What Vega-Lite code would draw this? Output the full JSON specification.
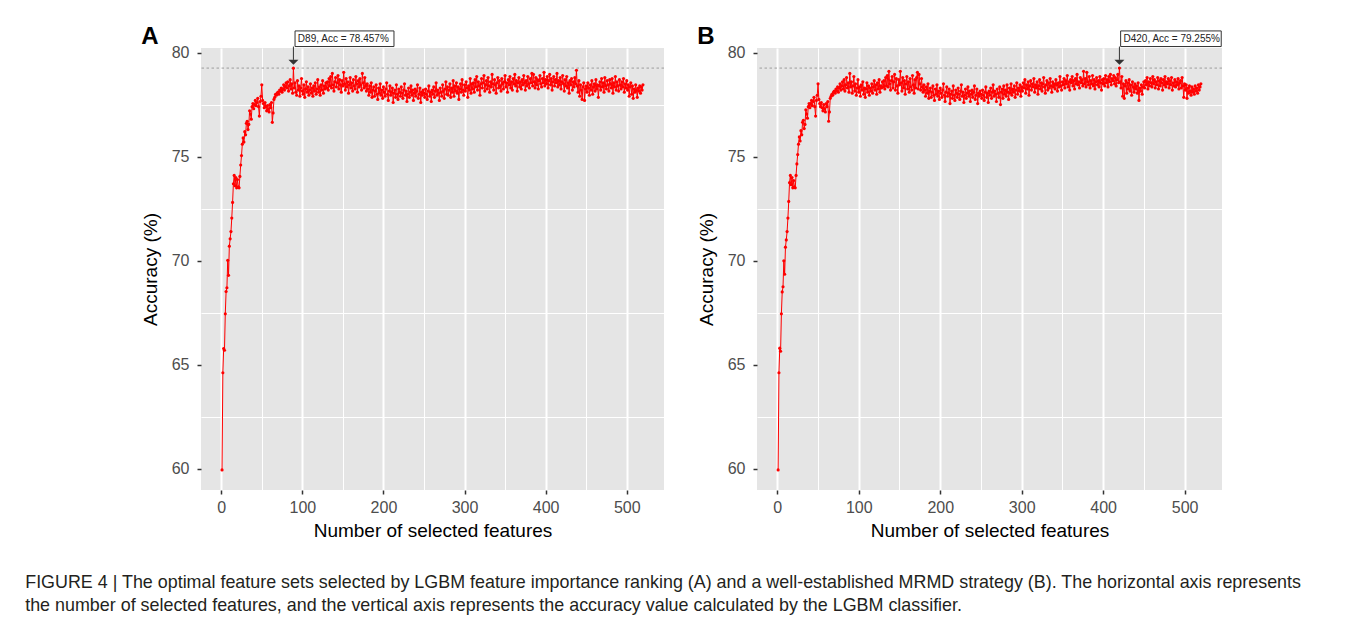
{
  "$schema": "https://vega.github.io/schema/vega-lite/v6.json",
  "background": "white",
  "padding": {"left": 25, "top": 25, "right": 5, "bottom": 5},
  "config": {
    "font": "Liberation Sans",
    "view": {"stroke": null, "fill": "#E5E5E5"},
    "axis": {
      "domain": false,
      "gridColor": "white",
      "tickColor": "#333333",
      "tickSize": 4,
      "tickWidth": 1.5,
      "labelColor": "#4D4D4D",
      "labelFontSize": 16,
      "labelFont": "Liberation Sans",
      "titleFont": "Liberation Sans",
      "titleFontSize": 19,
      "titleFontWeight": "normal",
      "titleColor": "#000000"
    },
    "axisX": {"labelPadding": 5, "titlePadding": 6},
    "axisY": {"labelPadding": 8, "titlePadding": 11}
  },
  "title": {
    "text": ["FIGURE 4 | The optimal feature sets selected by LGBM feature importance ranking (A) and a well-established MRMD strategy (B). The horizontal axis represents", "the number of selected features, and the vertical axis represents the accuracy value calculated by the LGBM classifier."],
    "orient": "bottom",
    "anchor": "start",
    "frame": "bounds",
    "dx": -116,
    "offset": 34,
    "fontSize": 17.9,
    "fontWeight": "normal",
    "font": "Liberation Sans",
    "color": "#231F20",
    "lineHeight": 23,
    "baseline": "top"
  },
  "datasets": {
    "A": [
      {"n":1,"acc":59.95},{"n":2,"acc":64.62},{"n":3,"acc":65.78},{"n":4,"acc":65.70},{"n":5,"acc":67.45},{"n":6,"acc":68.52},{"n":7,"acc":68.70},{"n":8,"acc":70.02},{"n":9,"acc":69.30},{"n":10,"acc":70.70},
      {"n":11,"acc":71.05},{"n":12,"acc":71.40},{"n":13,"acc":72.05},{"n":14,"acc":72.80},{"n":15,"acc":73.70},{"n":16,"acc":74.10},{"n":17,"acc":73.60},{"n":18,"acc":74.00},{"n":19,"acc":73.50},{"n":20,"acc":73.90},
      {"n":21,"acc":73.55},{"n":22,"acc":73.50},{"n":23,"acc":74.05},{"n":24,"acc":74.60},{"n":25,"acc":75.05},{"n":26,"acc":75.60},{"n":27,"acc":75.90},{"n":28,"acc":75.70},{"n":29,"acc":76.20},{"n":30,"acc":76.05},
      {"n":31,"acc":76.60},{"n":32,"acc":76.70},{"n":33,"acc":76.30},{"n":34,"acc":76.55},{"n":35,"acc":77.20},{"n":36,"acc":77.05},{"n":37,"acc":76.80},{"n":38,"acc":77.40},{"n":39,"acc":77.55},{"n":40,"acc":77.30},
      {"n":41,"acc":77.50},{"n":42,"acc":77.70},{"n":43,"acc":77.45},{"n":44,"acc":77.60},{"n":45,"acc":77.80},{"n":46,"acc":77.40},{"n":47,"acc":76.95},{"n":48,"acc":77.65},{"n":49,"acc":77.90},{"n":50,"acc":78.45},
      {"n":51,"acc":77.70},{"n":52,"acc":77.55},{"n":53,"acc":77.35},{"n":54,"acc":77.60},{"n":55,"acc":77.40},{"n":56,"acc":77.20},{"n":57,"acc":77.45},{"n":58,"acc":77.30},{"n":59,"acc":77.15},{"n":60,"acc":77.50},
      {"n":61,"acc":77.35},{"n":62,"acc":77.60},{"n":63,"acc":76.65},{"n":64,"acc":77.10},{"n":65,"acc":77.75},{"n":66,"acc":77.85},{"n":67,"acc":78.00},{"n":68,"acc":77.95},{"n":69,"acc":78.05},{"n":70,"acc":78.10},
      {"n":71,"acc":78.00},{"n":72,"acc":78.20},{"n":73,"acc":78.15},{"n":74,"acc":78.30},{"n":75,"acc":78.10},{"n":76,"acc":78.25},{"n":77,"acc":78.45},{"n":78,"acc":78.20},{"n":79,"acc":78.35},{"n":80,"acc":78.55},
      {"n":81,"acc":78.30},{"n":82,"acc":78.60},{"n":83,"acc":78.15},{"n":84,"acc":78.40},{"n":85,"acc":78.70},{"n":86,"acc":78.25},{"n":87,"acc":78.50},{"n":88,"acc":78.05},{"n":89,"acc":79.25},{"n":90,"acc":78.30},
      {"n":91,"acc":78.55},{"n":92,"acc":78.10},{"n":93,"acc":77.95},{"n":94,"acc":78.65},{"n":95,"acc":78.20},{"n":96,"acc":78.40},{"n":97,"acc":77.90},{"n":98,"acc":78.30},{"n":99,"acc":78.75},{"n":100,"acc":78.15},
      {"n":101,"acc":78.00},{"n":102,"acc":78.45},{"n":103,"acc":77.85},{"n":104,"acc":78.25},{"n":105,"acc":78.60},{"n":106,"acc":78.10},{"n":107,"acc":78.35},{"n":108,"acc":77.95},{"n":109,"acc":78.20},{"n":110,"acc":78.50},
      {"n":111,"acc":78.05},{"n":112,"acc":78.30},{"n":113,"acc":77.90},{"n":114,"acc":78.40},{"n":115,"acc":78.15},{"n":116,"acc":78.55},{"n":117,"acc":78.00},{"n":118,"acc":78.25},{"n":119,"acc":78.70},{"n":120,"acc":78.10},
      {"n":121,"acc":78.35},{"n":122,"acc":77.95},{"n":123,"acc":78.45},{"n":124,"acc":78.20},{"n":125,"acc":78.65},{"n":126,"acc":78.05},{"n":127,"acc":78.40},{"n":128,"acc":78.25},{"n":129,"acc":78.55},{"n":130,"acc":78.30},
      {"n":131,"acc":78.60},{"n":132,"acc":78.20},{"n":133,"acc":78.75},{"n":134,"acc":78.40},{"n":135,"acc":78.85},{"n":136,"acc":78.30},{"n":137,"acc":79.00},{"n":138,"acc":78.45},{"n":139,"acc":78.15},{"n":140,"acc":78.60},
      {"n":141,"acc":78.80},{"n":142,"acc":78.35},{"n":143,"acc":78.55},{"n":144,"acc":78.90},{"n":145,"acc":78.25},{"n":146,"acc":78.70},{"n":147,"acc":78.45},{"n":148,"acc":78.10},{"n":149,"acc":78.65},{"n":150,"acc":78.40},
      {"n":151,"acc":79.05},{"n":152,"acc":78.50},{"n":153,"acc":78.20},{"n":154,"acc":78.75},{"n":155,"acc":78.35},{"n":156,"acc":78.60},{"n":157,"acc":78.05},{"n":158,"acc":78.45},{"n":159,"acc":78.80},{"n":160,"acc":78.30},
      {"n":161,"acc":78.55},{"n":162,"acc":78.15},{"n":163,"acc":78.70},{"n":164,"acc":78.40},{"n":165,"acc":78.25},{"n":166,"acc":78.85},{"n":167,"acc":78.50},{"n":168,"acc":78.10},{"n":169,"acc":78.65},{"n":170,"acc":78.35},
      {"n":171,"acc":78.75},{"n":172,"acc":78.45},{"n":173,"acc":78.20},{"n":174,"acc":79.00},{"n":175,"acc":78.55},{"n":176,"acc":78.30},{"n":177,"acc":78.80},{"n":178,"acc":78.40},{"n":179,"acc":78.15},{"n":180,"acc":78.50},
      {"n":181,"acc":78.25},{"n":182,"acc":77.95},{"n":183,"acc":78.40},{"n":184,"acc":78.10},{"n":185,"acc":78.55},{"n":186,"acc":77.85},{"n":187,"acc":78.20},{"n":188,"acc":78.35},{"n":189,"acc":77.90},{"n":190,"acc":78.15},
      {"n":191,"acc":78.45},{"n":192,"acc":78.00},{"n":193,"acc":77.75},{"n":194,"acc":78.30},{"n":195,"acc":78.05},{"n":196,"acc":78.50},{"n":197,"acc":77.95},{"n":198,"acc":78.20},{"n":199,"acc":77.80},{"n":200,"acc":78.35},
      {"n":201,"acc":78.10},{"n":202,"acc":77.90},{"n":203,"acc":78.25},{"n":204,"acc":78.55},{"n":205,"acc":78.00},{"n":206,"acc":77.70},{"n":207,"acc":78.15},{"n":208,"acc":78.40},{"n":209,"acc":77.95},{"n":210,"acc":78.10},
      {"n":211,"acc":78.30},{"n":212,"acc":77.60},{"n":213,"acc":78.05},{"n":214,"acc":78.20},{"n":215,"acc":77.85},{"n":216,"acc":78.45},{"n":217,"acc":78.00},{"n":218,"acc":77.75},{"n":219,"acc":78.25},{"n":220,"acc":78.10},
      {"n":221,"acc":77.90},{"n":222,"acc":78.35},{"n":223,"acc":78.05},{"n":224,"acc":77.80},{"n":225,"acc":78.20},{"n":226,"acc":78.50},{"n":227,"acc":77.95},{"n":228,"acc":78.15},{"n":229,"acc":77.65},{"n":230,"acc":78.00},
      {"n":231,"acc":78.30},{"n":232,"acc":77.85},{"n":233,"acc":78.10},{"n":234,"acc":78.40},{"n":235,"acc":77.95},{"n":236,"acc":78.20},{"n":237,"acc":77.70},{"n":238,"acc":78.05},{"n":239,"acc":78.25},{"n":240,"acc":77.90},
      {"n":241,"acc":78.15},{"n":242,"acc":78.45},{"n":243,"acc":77.80},{"n":244,"acc":78.00},{"n":245,"acc":78.30},{"n":246,"acc":77.60},{"n":247,"acc":78.10},{"n":248,"acc":77.95},{"n":249,"acc":78.20},{"n":250,"acc":78.05},
      {"n":251,"acc":77.85},{"n":252,"acc":78.25},{"n":253,"acc":78.00},{"n":254,"acc":77.75},{"n":255,"acc":78.15},{"n":256,"acc":78.40},{"n":257,"acc":77.90},{"n":258,"acc":78.10},{"n":259,"acc":77.65},{"n":260,"acc":78.20},
      {"n":261,"acc":78.00},{"n":262,"acc":78.35},{"n":263,"acc":77.85},{"n":264,"acc":78.15},{"n":265,"acc":78.55},{"n":266,"acc":77.95},{"n":267,"acc":78.20},{"n":268,"acc":78.05},{"n":269,"acc":77.70},{"n":270,"acc":78.30},
      {"n":271,"acc":78.10},{"n":272,"acc":77.90},{"n":273,"acc":78.45},{"n":274,"acc":78.15},{"n":275,"acc":77.80},{"n":276,"acc":78.25},{"n":277,"acc":78.60},{"n":278,"acc":78.00},{"n":279,"acc":78.35},{"n":280,"acc":77.95},
      {"n":281,"acc":78.20},{"n":282,"acc":78.50},{"n":283,"acc":77.85},{"n":284,"acc":78.30},{"n":285,"acc":78.10},{"n":286,"acc":78.65},{"n":287,"acc":77.90},{"n":288,"acc":78.40},{"n":289,"acc":78.15},{"n":290,"acc":78.55},
      {"n":291,"acc":78.05},{"n":292,"acc":78.35},{"n":293,"acc":77.75},{"n":294,"acc":78.25},{"n":295,"acc":78.50},{"n":296,"acc":78.10},{"n":297,"acc":78.70},{"n":298,"acc":78.20},{"n":299,"acc":77.95},{"n":300,"acc":78.45},
      {"n":301,"acc":78.15},{"n":302,"acc":78.60},{"n":303,"acc":78.30},{"n":304,"acc":77.85},{"n":305,"acc":78.40},{"n":306,"acc":78.20},{"n":307,"acc":78.75},{"n":308,"acc":78.05},{"n":309,"acc":78.50},{"n":310,"acc":78.25},
      {"n":311,"acc":78.55},{"n":312,"acc":78.10},{"n":313,"acc":78.70},{"n":314,"acc":78.35},{"n":315,"acc":78.85},{"n":316,"acc":78.20},{"n":317,"acc":78.60},{"n":318,"acc":78.40},{"n":319,"acc":77.95},{"n":320,"acc":78.50},
      {"n":321,"acc":78.75},{"n":322,"acc":78.30},{"n":323,"acc":78.55},{"n":324,"acc":78.90},{"n":325,"acc":78.15},{"n":326,"acc":78.45},{"n":327,"acc":78.65},{"n":328,"acc":78.25},{"n":329,"acc":78.80},{"n":330,"acc":78.40},
      {"n":331,"acc":78.10},{"n":332,"acc":78.60},{"n":333,"acc":78.35},{"n":334,"acc":78.95},{"n":335,"acc":78.50},{"n":336,"acc":78.20},{"n":337,"acc":78.70},{"n":338,"acc":78.45},{"n":339,"acc":78.05},{"n":340,"acc":78.55},
      {"n":341,"acc":78.80},{"n":342,"acc":78.30},{"n":343,"acc":78.65},{"n":344,"acc":78.40},{"n":345,"acc":78.15},{"n":346,"acc":78.75},{"n":347,"acc":78.50},{"n":348,"acc":78.25},{"n":349,"acc":78.60},{"n":350,"acc":78.90},
      {"n":351,"acc":78.35},{"n":352,"acc":78.55},{"n":353,"acc":78.10},{"n":354,"acc":78.70},{"n":355,"acc":78.45},{"n":356,"acc":78.85},{"n":357,"acc":78.30},{"n":358,"acc":78.60},{"n":359,"acc":78.20},{"n":360,"acc":78.75},
      {"n":361,"acc":78.50},{"n":362,"acc":78.95},{"n":363,"acc":78.40},{"n":364,"acc":78.65},{"n":365,"acc":78.15},{"n":366,"acc":78.55},{"n":367,"acc":78.80},{"n":368,"acc":78.35},{"n":369,"acc":78.60},{"n":370,"acc":78.25},
      {"n":371,"acc":78.70},{"n":372,"acc":78.45},{"n":373,"acc":78.90},{"n":374,"acc":78.55},{"n":375,"acc":78.20},{"n":376,"acc":78.65},{"n":377,"acc":78.40},{"n":378,"acc":78.85},{"n":379,"acc":78.50},{"n":380,"acc":78.30},
      {"n":381,"acc":78.75},{"n":382,"acc":78.55},{"n":383,"acc":79.00},{"n":384,"acc":78.40},{"n":385,"acc":78.95},{"n":386,"acc":78.60},{"n":387,"acc":78.30},{"n":388,"acc":78.80},{"n":389,"acc":78.45},{"n":390,"acc":78.70},
      {"n":391,"acc":78.25},{"n":392,"acc":78.65},{"n":393,"acc":78.90},{"n":394,"acc":78.50},{"n":395,"acc":78.35},{"n":396,"acc":78.75},{"n":397,"acc":78.55},{"n":398,"acc":79.05},{"n":399,"acc":78.40},{"n":400,"acc":78.70},
      {"n":401,"acc":78.50},{"n":402,"acc":78.85},{"n":403,"acc":78.30},{"n":404,"acc":78.65},{"n":405,"acc":78.95},{"n":406,"acc":78.45},{"n":407,"acc":78.75},{"n":408,"acc":78.20},{"n":409,"acc":78.60},{"n":410,"acc":78.85},
      {"n":411,"acc":78.40},{"n":412,"acc":78.70},{"n":413,"acc":78.55},{"n":414,"acc":79.00},{"n":415,"acc":78.35},{"n":416,"acc":78.65},{"n":417,"acc":78.45},{"n":418,"acc":78.80},{"n":419,"acc":78.25},{"n":420,"acc":78.60},
      {"n":421,"acc":78.90},{"n":422,"acc":78.50},{"n":423,"acc":78.15},{"n":424,"acc":78.70},{"n":425,"acc":78.40},{"n":426,"acc":78.85},{"n":427,"acc":78.30},{"n":428,"acc":78.55},{"n":429,"acc":78.05},{"n":430,"acc":78.65},
      {"n":431,"acc":78.45},{"n":432,"acc":78.75},{"n":433,"acc":78.20},{"n":434,"acc":78.60},{"n":435,"acc":78.35},{"n":436,"acc":78.80},{"n":437,"acc":78.50},{"n":438,"acc":79.15},{"n":439,"acc":78.40},{"n":440,"acc":78.10},
      {"n":441,"acc":78.65},{"n":442,"acc":77.90},{"n":443,"acc":78.45},{"n":444,"acc":78.20},{"n":445,"acc":77.75},{"n":446,"acc":78.35},{"n":447,"acc":78.55},{"n":448,"acc":77.70},{"n":449,"acc":78.25},{"n":450,"acc":78.40},
      {"n":451,"acc":78.10},{"n":452,"acc":78.55},{"n":453,"acc":78.30},{"n":454,"acc":77.95},{"n":455,"acc":78.45},{"n":456,"acc":78.20},{"n":457,"acc":78.65},{"n":458,"acc":78.00},{"n":459,"acc":78.35},{"n":460,"acc":78.50},
      {"n":461,"acc":78.15},{"n":462,"acc":78.70},{"n":463,"acc":78.25},{"n":464,"acc":78.45},{"n":465,"acc":77.85},{"n":466,"acc":78.40},{"n":467,"acc":78.60},{"n":468,"acc":78.20},{"n":469,"acc":78.75},{"n":470,"acc":78.35},
      {"n":471,"acc":78.55},{"n":472,"acc":78.10},{"n":473,"acc":78.80},{"n":474,"acc":78.40},{"n":475,"acc":78.25},{"n":476,"acc":78.65},{"n":477,"acc":78.45},{"n":478,"acc":78.15},{"n":479,"acc":78.70},{"n":480,"acc":78.50},
      {"n":481,"acc":78.30},{"n":482,"acc":78.75},{"n":483,"acc":78.05},{"n":484,"acc":78.55},{"n":485,"acc":78.35},{"n":486,"acc":78.85},{"n":487,"acc":78.20},{"n":488,"acc":78.60},{"n":489,"acc":78.40},{"n":490,"acc":78.15},
      {"n":491,"acc":78.70},{"n":492,"acc":78.45},{"n":493,"acc":78.25},{"n":494,"acc":78.60},{"n":495,"acc":78.35},{"n":496,"acc":78.75},{"n":497,"acc":78.10},{"n":498,"acc":78.50},{"n":499,"acc":78.30},{"n":500,"acc":78.65},
      {"n":501,"acc":78.20},{"n":502,"acc":78.45},{"n":503,"acc":77.90},{"n":504,"acc":78.35},{"n":505,"acc":78.55},{"n":506,"acc":78.00},{"n":507,"acc":78.40},{"n":508,"acc":77.80},{"n":509,"acc":78.25},{"n":510,"acc":78.10},
      {"n":511,"acc":78.45},{"n":512,"acc":78.20},{"n":513,"acc":77.85},{"n":514,"acc":78.30},{"n":515,"acc":78.15},{"n":516,"acc":78.40},{"n":517,"acc":78.05},{"n":518,"acc":78.35},{"n":519,"acc":78.20},{"n":520,"acc":78.45}
    ],
    "B": [
      {"n":1,"acc":59.95},{"n":2,"acc":64.62},{"n":3,"acc":65.80},{"n":4,"acc":65.65},{"n":5,"acc":67.45},{"n":6,"acc":68.50},{"n":7,"acc":68.75},{"n":8,"acc":70.00},{"n":9,"acc":69.35},{"n":10,"acc":70.65},
      {"n":11,"acc":71.00},{"n":12,"acc":71.40},{"n":13,"acc":72.05},{"n":14,"acc":72.85},{"n":15,"acc":73.75},{"n":16,"acc":74.10},{"n":17,"acc":73.65},{"n":18,"acc":74.00},{"n":19,"acc":73.50},{"n":20,"acc":73.85},
      {"n":21,"acc":73.55},{"n":22,"acc":73.50},{"n":23,"acc":74.10},{"n":24,"acc":74.65},{"n":25,"acc":75.10},{"n":26,"acc":75.60},{"n":27,"acc":75.95},{"n":28,"acc":75.75},{"n":29,"acc":76.25},{"n":30,"acc":76.05},
      {"n":31,"acc":76.65},{"n":32,"acc":76.75},{"n":33,"acc":76.35},{"n":34,"acc":76.55},{"n":35,"acc":77.25},{"n":36,"acc":77.05},{"n":37,"acc":76.85},{"n":38,"acc":77.40},{"n":39,"acc":77.55},{"n":40,"acc":77.35},
      {"n":41,"acc":77.55},{"n":42,"acc":77.70},{"n":43,"acc":77.45},{"n":44,"acc":77.65},{"n":45,"acc":77.85},{"n":46,"acc":77.40},{"n":47,"acc":76.95},{"n":48,"acc":77.70},{"n":49,"acc":77.95},{"n":50,"acc":78.50},
      {"n":51,"acc":77.75},{"n":52,"acc":77.55},{"n":53,"acc":77.40},{"n":54,"acc":77.60},{"n":55,"acc":77.35},{"n":56,"acc":77.20},{"n":57,"acc":77.50},{"n":58,"acc":77.30},{"n":59,"acc":77.15},{"n":60,"acc":77.55},
      {"n":61,"acc":77.40},{"n":62,"acc":77.65},{"n":63,"acc":76.70},{"n":64,"acc":77.15},{"n":65,"acc":77.80},{"n":66,"acc":77.90},{"n":67,"acc":78.00},{"n":68,"acc":77.95},{"n":69,"acc":78.10},{"n":70,"acc":78.15},
      {"n":71,"acc":78.05},{"n":72,"acc":78.25},{"n":73,"acc":78.15},{"n":74,"acc":78.35},{"n":75,"acc":78.10},{"n":76,"acc":78.30},{"n":77,"acc":78.50},{"n":78,"acc":78.20},{"n":79,"acc":78.40},{"n":80,"acc":78.60},
      {"n":81,"acc":78.25},{"n":82,"acc":78.70},{"n":83,"acc":78.15},{"n":84,"acc":78.45},{"n":85,"acc":78.80},{"n":86,"acc":78.30},{"n":87,"acc":78.55},{"n":88,"acc":78.10},{"n":89,"acc":79.00},{"n":90,"acc":78.35},
      {"n":91,"acc":78.60},{"n":92,"acc":78.05},{"n":93,"acc":78.40},{"n":94,"acc":78.85},{"n":95,"acc":78.15},{"n":96,"acc":78.50},{"n":97,"acc":77.95},{"n":98,"acc":78.30},{"n":99,"acc":78.70},{"n":100,"acc":78.10},
      {"n":101,"acc":78.35},{"n":102,"acc":77.90},{"n":103,"acc":78.45},{"n":104,"acc":78.20},{"n":105,"acc":78.60},{"n":106,"acc":78.00},{"n":107,"acc":78.30},{"n":108,"acc":77.85},{"n":109,"acc":78.25},{"n":110,"acc":78.55},
      {"n":111,"acc":78.10},{"n":112,"acc":78.40},{"n":113,"acc":77.95},{"n":114,"acc":78.30},{"n":115,"acc":78.15},{"n":116,"acc":78.50},{"n":117,"acc":78.05},{"n":118,"acc":78.35},{"n":119,"acc":78.65},{"n":120,"acc":78.20},
      {"n":121,"acc":78.45},{"n":122,"acc":78.00},{"n":123,"acc":78.55},{"n":124,"acc":78.25},{"n":125,"acc":78.70},{"n":126,"acc":78.10},{"n":127,"acc":78.40},{"n":128,"acc":78.30},{"n":129,"acc":78.60},{"n":130,"acc":78.35},
      {"n":131,"acc":78.65},{"n":132,"acc":78.25},{"n":133,"acc":78.80},{"n":134,"acc":78.40},{"n":135,"acc":78.90},{"n":136,"acc":78.35},{"n":137,"acc":79.10},{"n":138,"acc":78.50},{"n":139,"acc":78.20},{"n":140,"acc":78.65},
      {"n":141,"acc":78.85},{"n":142,"acc":78.30},{"n":143,"acc":78.60},{"n":144,"acc":78.95},{"n":145,"acc":78.20},{"n":146,"acc":78.75},{"n":147,"acc":78.40},{"n":148,"acc":78.05},{"n":149,"acc":78.70},{"n":150,"acc":78.45},
      {"n":151,"acc":79.10},{"n":152,"acc":78.55},{"n":153,"acc":78.15},{"n":154,"acc":78.80},{"n":155,"acc":78.30},{"n":156,"acc":78.65},{"n":157,"acc":78.00},{"n":158,"acc":78.50},{"n":159,"acc":78.85},{"n":160,"acc":78.25},
      {"n":161,"acc":78.60},{"n":162,"acc":78.10},{"n":163,"acc":78.75},{"n":164,"acc":78.35},{"n":165,"acc":78.20},{"n":166,"acc":78.90},{"n":167,"acc":78.45},{"n":168,"acc":78.05},{"n":169,"acc":78.70},{"n":170,"acc":78.30},
      {"n":171,"acc":78.80},{"n":172,"acc":79.05},{"n":173,"acc":78.25},{"n":174,"acc":78.95},{"n":175,"acc":78.50},{"n":176,"acc":78.20},{"n":177,"acc":78.75},{"n":178,"acc":78.35},{"n":179,"acc":78.10},{"n":180,"acc":78.45},
      {"n":181,"acc":78.20},{"n":182,"acc":77.90},{"n":183,"acc":78.35},{"n":184,"acc":78.05},{"n":185,"acc":78.50},{"n":186,"acc":77.80},{"n":187,"acc":78.15},{"n":188,"acc":78.30},{"n":189,"acc":77.85},{"n":190,"acc":78.10},
      {"n":191,"acc":78.40},{"n":192,"acc":77.95},{"n":193,"acc":77.70},{"n":194,"acc":78.25},{"n":195,"acc":78.00},{"n":196,"acc":78.45},{"n":197,"acc":77.90},{"n":198,"acc":78.15},{"n":199,"acc":77.75},{"n":200,"acc":78.30},
      {"n":201,"acc":78.05},{"n":202,"acc":77.85},{"n":203,"acc":78.20},{"n":204,"acc":78.50},{"n":205,"acc":77.95},{"n":206,"acc":77.65},{"n":207,"acc":78.10},{"n":208,"acc":78.35},{"n":209,"acc":77.90},{"n":210,"acc":78.05},
      {"n":211,"acc":78.25},{"n":212,"acc":77.55},{"n":213,"acc":78.00},{"n":214,"acc":78.15},{"n":215,"acc":77.80},{"n":216,"acc":78.40},{"n":217,"acc":77.95},{"n":218,"acc":77.70},{"n":219,"acc":78.20},{"n":220,"acc":78.05},
      {"n":221,"acc":77.85},{"n":222,"acc":78.30},{"n":223,"acc":78.00},{"n":224,"acc":77.75},{"n":225,"acc":78.15},{"n":226,"acc":78.45},{"n":227,"acc":77.90},{"n":228,"acc":78.10},{"n":229,"acc":77.60},{"n":230,"acc":77.95},
      {"n":231,"acc":78.25},{"n":232,"acc":77.80},{"n":233,"acc":78.05},{"n":234,"acc":78.35},{"n":235,"acc":77.90},{"n":236,"acc":78.15},{"n":237,"acc":77.65},{"n":238,"acc":78.00},{"n":239,"acc":78.20},{"n":240,"acc":77.85},
      {"n":241,"acc":78.10},{"n":242,"acc":78.40},{"n":243,"acc":77.75},{"n":244,"acc":77.95},{"n":245,"acc":78.25},{"n":246,"acc":77.55},{"n":247,"acc":78.05},{"n":248,"acc":77.90},{"n":249,"acc":78.15},{"n":250,"acc":78.00},
      {"n":251,"acc":77.80},{"n":252,"acc":78.20},{"n":253,"acc":77.95},{"n":254,"acc":77.70},{"n":255,"acc":78.10},{"n":256,"acc":78.35},{"n":257,"acc":77.85},{"n":258,"acc":78.05},{"n":259,"acc":77.60},{"n":260,"acc":78.15},
      {"n":261,"acc":77.95},{"n":262,"acc":78.30},{"n":263,"acc":77.80},{"n":264,"acc":78.10},{"n":265,"acc":78.45},{"n":266,"acc":77.90},{"n":267,"acc":78.15},{"n":268,"acc":78.00},{"n":269,"acc":77.65},{"n":270,"acc":78.25},
      {"n":271,"acc":78.05},{"n":272,"acc":77.85},{"n":273,"acc":78.35},{"n":274,"acc":77.50},{"n":275,"acc":78.10},{"n":276,"acc":78.25},{"n":277,"acc":77.80},{"n":278,"acc":78.40},{"n":279,"acc":78.00},{"n":280,"acc":78.20},
      {"n":281,"acc":77.90},{"n":282,"acc":78.45},{"n":283,"acc":78.10},{"n":284,"acc":77.75},{"n":285,"acc":78.30},{"n":286,"acc":78.05},{"n":287,"acc":78.50},{"n":288,"acc":77.95},{"n":289,"acc":78.25},{"n":290,"acc":78.10},
      {"n":291,"acc":78.40},{"n":292,"acc":77.85},{"n":293,"acc":78.20},{"n":294,"acc":78.55},{"n":295,"acc":78.00},{"n":296,"acc":78.30},{"n":297,"acc":78.15},{"n":298,"acc":78.45},{"n":299,"acc":77.90},{"n":300,"acc":78.35},
      {"n":301,"acc":78.15},{"n":302,"acc":78.55},{"n":303,"acc":78.30},{"n":304,"acc":78.70},{"n":305,"acc":78.05},{"n":306,"acc":78.45},{"n":307,"acc":78.25},{"n":308,"acc":78.60},{"n":309,"acc":77.95},{"n":310,"acc":78.40},
      {"n":311,"acc":78.65},{"n":312,"acc":78.20},{"n":313,"acc":78.50},{"n":314,"acc":78.35},{"n":315,"acc":78.75},{"n":316,"acc":78.10},{"n":317,"acc":78.45},{"n":318,"acc":78.30},{"n":319,"acc":78.60},{"n":320,"acc":78.00},
      {"n":321,"acc":78.40},{"n":322,"acc":78.70},{"n":323,"acc":78.25},{"n":324,"acc":78.55},{"n":325,"acc":78.15},{"n":326,"acc":78.50},{"n":327,"acc":78.80},{"n":328,"acc":78.35},{"n":329,"acc":78.05},{"n":330,"acc":78.45},
      {"n":331,"acc":78.65},{"n":332,"acc":78.20},{"n":333,"acc":78.55},{"n":334,"acc":78.30},{"n":335,"acc":78.75},{"n":336,"acc":78.40},{"n":337,"acc":78.10},{"n":338,"acc":78.60},{"n":339,"acc":78.35},{"n":340,"acc":78.50},
      {"n":341,"acc":78.25},{"n":342,"acc":78.70},{"n":343,"acc":78.45},{"n":344,"acc":78.15},{"n":345,"acc":78.55},{"n":346,"acc":78.35},{"n":347,"acc":78.85},{"n":348,"acc":78.40},{"n":349,"acc":78.20},{"n":350,"acc":78.60},
      {"n":351,"acc":78.45},{"n":352,"acc":78.75},{"n":353,"acc":78.30},{"n":354,"acc":78.65},{"n":355,"acc":78.50},{"n":356,"acc":78.90},{"n":357,"acc":78.35},{"n":358,"acc":78.60},{"n":359,"acc":78.20},{"n":360,"acc":78.70},
      {"n":361,"acc":78.55},{"n":362,"acc":78.85},{"n":363,"acc":78.40},{"n":364,"acc":78.65},{"n":365,"acc":78.25},{"n":366,"acc":78.75},{"n":367,"acc":78.50},{"n":368,"acc":78.95},{"n":369,"acc":78.45},{"n":370,"acc":78.60},
      {"n":371,"acc":78.30},{"n":372,"acc":78.80},{"n":373,"acc":78.55},{"n":374,"acc":78.70},{"n":375,"acc":78.40},{"n":376,"acc":79.10},{"n":377,"acc":78.50},{"n":378,"acc":78.75},{"n":379,"acc":78.35},{"n":380,"acc":79.05},
      {"n":381,"acc":78.60},{"n":382,"acc":78.45},{"n":383,"acc":78.85},{"n":384,"acc":78.30},{"n":385,"acc":78.65},{"n":386,"acc":78.50},{"n":387,"acc":78.90},{"n":388,"acc":78.40},{"n":389,"acc":78.70},{"n":390,"acc":78.25},
      {"n":391,"acc":78.60},{"n":392,"acc":78.80},{"n":393,"acc":78.45},{"n":394,"acc":78.65},{"n":395,"acc":78.35},{"n":396,"acc":78.85},{"n":397,"acc":78.55},{"n":398,"acc":78.20},{"n":399,"acc":78.70},{"n":400,"acc":78.50},
      {"n":401,"acc":78.75},{"n":402,"acc":78.40},{"n":403,"acc":78.90},{"n":404,"acc":78.55},{"n":405,"acc":78.70},{"n":406,"acc":78.35},{"n":407,"acc":78.85},{"n":408,"acc":78.60},{"n":409,"acc":78.95},{"n":410,"acc":78.45},
      {"n":411,"acc":78.75},{"n":412,"acc":78.65},{"n":413,"acc":78.90},{"n":414,"acc":78.50},{"n":415,"acc":78.80},{"n":416,"acc":78.40},{"n":417,"acc":78.70},{"n":418,"acc":78.95},{"n":419,"acc":78.55},{"n":420,"acc":79.255},
      {"n":421,"acc":78.60},{"n":422,"acc":78.30},{"n":423,"acc":78.85},{"n":424,"acc":77.90},{"n":425,"acc":78.50},{"n":426,"acc":77.80},{"n":427,"acc":78.40},{"n":428,"acc":78.65},{"n":429,"acc":78.05},{"n":430,"acc":78.55},
      {"n":431,"acc":78.25},{"n":432,"acc":78.70},{"n":433,"acc":78.15},{"n":434,"acc":78.45},{"n":435,"acc":77.95},{"n":436,"acc":78.60},{"n":437,"acc":78.35},{"n":438,"acc":78.10},{"n":439,"acc":78.50},{"n":440,"acc":78.25},
      {"n":441,"acc":78.40},{"n":442,"acc":78.05},{"n":443,"acc":78.55},{"n":444,"acc":77.70},{"n":445,"acc":78.30},{"n":446,"acc":78.15},{"n":447,"acc":78.45},{"n":448,"acc":78.00},{"n":449,"acc":78.35},{"n":450,"acc":78.60},
      {"n":451,"acc":78.30},{"n":452,"acc":78.65},{"n":453,"acc":78.45},{"n":454,"acc":78.80},{"n":455,"acc":78.25},{"n":456,"acc":78.60},{"n":457,"acc":78.40},{"n":458,"acc":78.75},{"n":459,"acc":78.55},{"n":460,"acc":78.35},
      {"n":461,"acc":78.85},{"n":462,"acc":78.50},{"n":463,"acc":78.70},{"n":464,"acc":78.30},{"n":465,"acc":78.60},{"n":466,"acc":78.45},{"n":467,"acc":78.80},{"n":468,"acc":78.25},{"n":469,"acc":78.65},{"n":470,"acc":78.40},
      {"n":471,"acc":78.75},{"n":472,"acc":78.55},{"n":473,"acc":78.20},{"n":474,"acc":78.70},{"n":475,"acc":78.45},{"n":476,"acc":78.85},{"n":477,"acc":78.35},{"n":478,"acc":78.60},{"n":479,"acc":78.50},{"n":480,"acc":78.75},
      {"n":481,"acc":78.30},{"n":482,"acc":78.65},{"n":483,"acc":78.45},{"n":484,"acc":78.80},{"n":485,"acc":78.20},{"n":486,"acc":78.55},{"n":487,"acc":78.40},{"n":488,"acc":78.70},{"n":489,"acc":78.35},{"n":490,"acc":78.60},
      {"n":491,"acc":78.45},{"n":492,"acc":78.75},{"n":493,"acc":78.25},{"n":494,"acc":78.55},{"n":495,"acc":78.65},{"n":496,"acc":78.30},{"n":497,"acc":78.80},{"n":498,"acc":78.40},{"n":499,"acc":77.85},{"n":500,"acc":78.50},
      {"n":501,"acc":78.20},{"n":502,"acc":78.45},{"n":503,"acc":77.80},{"n":504,"acc":78.30},{"n":505,"acc":78.05},{"n":506,"acc":78.40},{"n":507,"acc":78.15},{"n":508,"acc":77.95},{"n":509,"acc":78.35},{"n":510,"acc":78.10},
      {"n":511,"acc":78.25},{"n":512,"acc":78.00},{"n":513,"acc":78.40},{"n":514,"acc":78.15},{"n":515,"acc":78.30},{"n":516,"acc":78.05},{"n":517,"acc":78.45},{"n":518,"acc":78.20},{"n":519,"acc":78.35},{"n":520,"acc":78.50}
    ]
  },
  "spacing": 32,
  "hconcat": [
    {
      "width": 463,
      "height": 442,
      "title": {"text": "A", "anchor": "start", "frame": "bounds", "fontSize": 24, "fontWeight": "bold", "color": "#000000", "baseline": "alphabetic", "offset": -38},
      "resolve": {"axis": {"x": "independent", "y": "independent"}},
      "layer": [
        {
          "data": {"values": [{}]},
          "mark": {"type": "rule", "color": "#8C8C8C", "strokeDash": [2.5, 2.5], "strokeWidth": 0.8},
          "encoding": {"y": {"datum": 79.255, "axis": null}}
        },
        {
          "data": {"name": "A"},
          "mark": {"type": "line", "color": "#FF0000", "strokeWidth": 1},
          "encoding": {
            "x": {"field": "n", "type": "quantitative", "scale": {"domain": [-24.95, 545.95], "nice": false, "zero": false},
              "axis": {"title": "Number of selected features", "values": [0, 100, 200, 300, 400, 500], "gridWidth": 2}},
            "y": {"field": "acc", "type": "quantitative", "scale": {"domain": [58.985, 80.22], "nice": false, "zero": false},
              "axis": {"title": "Accuracy (%)", "values": [60, 65, 70, 75, 80], "gridWidth": 2}}
          }
        },
        {
          "data": {"name": "A"},
          "mark": {"type": "point", "filled": true, "color": "#FF0000", "size": 10, "opacity": 1},
          "encoding": {
            "x": {"field": "n", "type": "quantitative",
              "axis": {"title": null, "values": [50, 150, 250, 350, 450], "grid": true, "gridWidth": 1, "labels": false, "ticks": false, "domain": false}},
            "y": {"field": "acc", "type": "quantitative",
              "axis": {"title": null, "values": [62.5, 67.5, 72.5, 77.5], "grid": true, "gridWidth": 1, "labels": false, "ticks": false, "domain": false}}
          }
        },
        {
          "data": {"values": [{}]},
          "mark": {"type": "rule", "color": "#333333", "strokeWidth": 1},
          "encoding": {"x": {"datum": 89, "axis": null}, "y": {"datum": 80.29, "axis": null}, "y2": {"datum": 79.65}}
        },
        {
          "data": {"values": [{}]},
          "mark": {"type": "point", "shape": "M-1,-0.5L1,-0.5L0,0.5Z", "filled": true, "color": "#333333", "size": 100, "opacity": 1},
          "encoding": {"x": {"datum": 89, "axis": null}, "y": {"datum": 79.53, "axis": null}}
        },
        {
          "data": {"values": [{}]},
          "mark": {"type": "rect", "fill": "white", "stroke": "#333333", "strokeWidth": 1},
          "encoding": {"x": {"datum": 91, "axis": null}, "x2": {"datum": 213}, "y": {"datum": 81.04, "axis": null}, "y2": {"datum": 80.29}}
        },
        {
          "data": {"values": [{}]},
          "mark": {"type": "text", "align": "left", "baseline": "middle", "fontSize": 10, "color": "#222222", "font": "Liberation Sans"},
          "encoding": {"x": {"datum": 94.5, "axis": null}, "y": {"datum": 80.66, "axis": null}, "text": {"value": "D89, Acc = 78.457%"}}
        }
      ]
    },
    {
      "width": 465,
      "height": 442,
      "title": {"text": "B", "anchor": "start", "frame": "bounds", "fontSize": 24, "fontWeight": "bold", "color": "#000000", "baseline": "alphabetic", "offset": -38},
      "resolve": {"axis": {"x": "independent", "y": "independent"}},
      "layer": [
        {
          "data": {"values": [{}]},
          "mark": {"type": "rule", "color": "#8C8C8C", "strokeDash": [2.5, 2.5], "strokeWidth": 0.8},
          "encoding": {"y": {"datum": 79.255, "axis": null}}
        },
        {
          "data": {"name": "B"},
          "mark": {"type": "line", "color": "#FF0000", "strokeWidth": 1},
          "encoding": {
            "x": {"field": "n", "type": "quantitative", "scale": {"domain": [-24.95, 545.95], "nice": false, "zero": false},
              "axis": {"title": "Number of selected features", "values": [0, 100, 200, 300, 400, 500], "gridWidth": 2}},
            "y": {"field": "acc", "type": "quantitative", "scale": {"domain": [58.985, 80.22], "nice": false, "zero": false},
              "axis": {"title": "Accuracy (%)", "values": [60, 65, 70, 75, 80], "gridWidth": 2}}
          }
        },
        {
          "data": {"name": "B"},
          "mark": {"type": "point", "filled": true, "color": "#FF0000", "size": 10, "opacity": 1},
          "encoding": {
            "x": {"field": "n", "type": "quantitative",
              "axis": {"title": null, "values": [50, 150, 250, 350, 450], "grid": true, "gridWidth": 1, "labels": false, "ticks": false, "domain": false}},
            "y": {"field": "acc", "type": "quantitative",
              "axis": {"title": null, "values": [62.5, 67.5, 72.5, 77.5], "grid": true, "gridWidth": 1, "labels": false, "ticks": false, "domain": false}}
          }
        },
        {
          "data": {"values": [{}]},
          "mark": {"type": "rule", "color": "#333333", "strokeWidth": 1},
          "encoding": {"x": {"datum": 420, "axis": null}, "y": {"datum": 80.29, "axis": null}, "y2": {"datum": 79.65}}
        },
        {
          "data": {"values": [{}]},
          "mark": {"type": "point", "shape": "M-1,-0.5L1,-0.5L0,0.5Z", "filled": true, "color": "#333333", "size": 100, "opacity": 1},
          "encoding": {"x": {"datum": 420, "axis": null}, "y": {"datum": 79.53, "axis": null}}
        },
        {
          "data": {"values": [{}]},
          "mark": {"type": "rect", "fill": "white", "stroke": "#333333", "strokeWidth": 1},
          "encoding": {"x": {"datum": 421.5, "axis": null}, "x2": {"datum": 545}, "y": {"datum": 81.04, "axis": null}, "y2": {"datum": 80.29}}
        },
        {
          "data": {"values": [{}]},
          "mark": {"type": "text", "align": "left", "baseline": "middle", "fontSize": 10, "color": "#222222", "font": "Liberation Sans"},
          "encoding": {"x": {"datum": 425, "axis": null}, "y": {"datum": 80.66, "axis": null}, "text": {"value": "D420, Acc = 79.255%"}}
        }
      ]
    }
  ]
}
